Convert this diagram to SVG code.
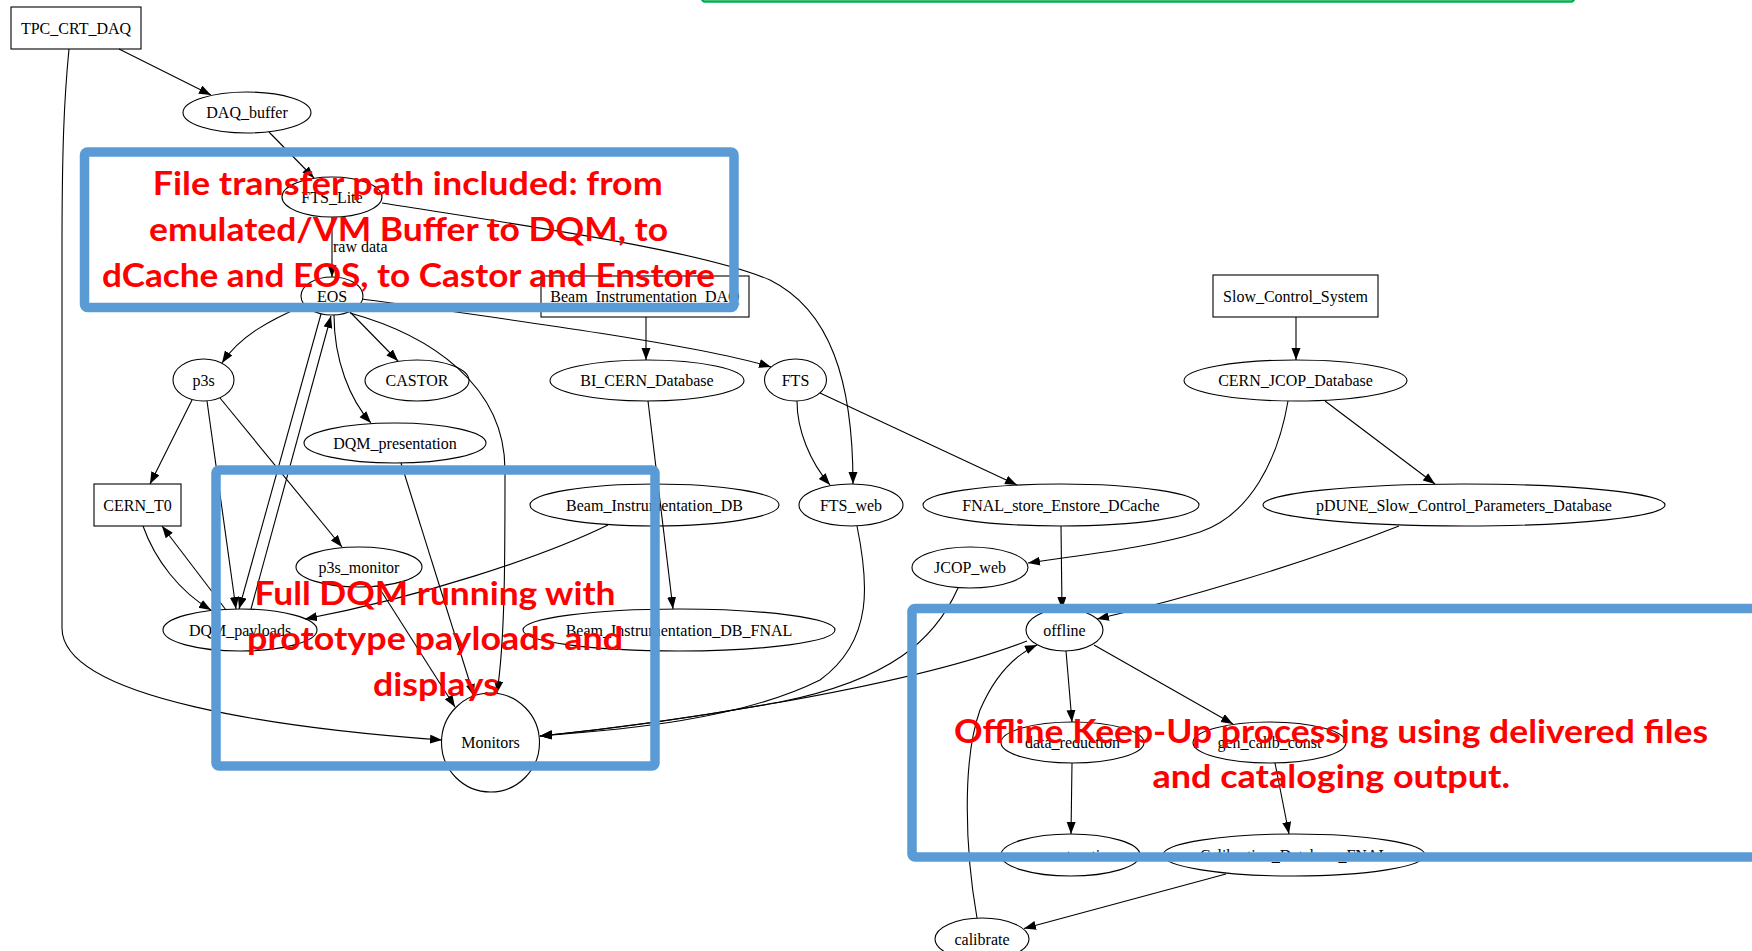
<svg xmlns="http://www.w3.org/2000/svg" width="1752" height="951" viewBox="0 0 1752 951">
<style>
.n ellipse,.n rect{fill:none;stroke:#000;stroke-width:1.1}
.n text,.lbl{font-family:"Liberation Serif","Times New Roman",serif;font-size:16px;fill:#000;text-anchor:middle}
.lbl{text-anchor:start}
#edges path{fill:none;stroke:#000;stroke-width:1.1}
.ar{marker-end:url(#ah)}
.box{fill:none;stroke:#5B9BD5;stroke-width:9.5}
.red{font-family:Lato,"Open Sans","Liberation Sans",sans-serif;font-weight:700;font-size:32px;fill:#FF0000}
</style>
<defs>
<marker id="ah" markerUnits="userSpaceOnUse" markerWidth="13" markerHeight="10" refX="12" refY="4.5" orient="auto">
<path d="M0,0 L12,4.5 L0,9 z" fill="#000"/>
</marker>
</defs>
<rect x="0" y="0" width="1752" height="951" fill="#fff"/>
<rect x="702" y="-12" width="872" height="13.5" rx="3" fill="none" stroke="#00B050" stroke-width="2.5"/>
<g id="edges">
<path class="ar" d="M119,49 L211,95"/>
<path class="ar" d="M69,49 C64,100 62,150 62,250 L62,628 C62,700 290,729 442,740"/>
<path class="ar" d="M269,132 L314,178"/>
<path class="ar" d="M332,217 L332,277"/>
<path class="ar" d="M382,203 C520,225 700,250 770,280 C830,310 853,380 853,484"/>
<path class="ar" d="M303,306 C270,320 240,336 222,363"/>
<path class="ar" d="M350,312 L398,361"/>
<path class="ar" d="M334,315 C334,360 350,400 371,423"/>
<path class="ar" d="M350,313 C430,335 505,385 505,470 C505,560 505,640 497,693"/>
<path class="ar" d="M321,314 L239,609"/>
<path class="ar" d="M251,609 L331,316"/>
<path class="ar" d="M362,299 C500,318 700,345 771,367"/>
<path class="ar" d="M192,400 L150,484"/>
<path class="ar" d="M207,401 L236,609"/>
<path class="ar" d="M220,398 L342,547"/>
<path class="ar" d="M143,526 C155,560 180,592 211,610"/>
<path class="ar" d="M226,610 L162,526"/>
<path class="ar" d="M608,525 C540,558 420,597 305,619"/>
<path class="ar" d="M378,586 L455,707"/>
<path class="ar" d="M401,463 L474,696"/>
<path class="ar" d="M646,317 L646,360"/>
<path class="ar" d="M648,401 L673,609"/>
<path class="ar" d="M797,401 C797,430 810,462 830,485"/>
<path class="ar" d="M820,393 L1017,485"/>
<path class="ar" d="M857,526 C868,580 875,640 820,680 C740,720 620,730 540,736"/>
<path class="ar" d="M958,588 C935,640 890,680 780,702 C680,720 600,730 540,736"/>
<path class="ar" d="M1027,641 C900,690 650,725 540,736"/>
<path class="ar" d="M1061,526 L1062,609"/>
<path class="ar" d="M1288,401 C1278,460 1250,515 1200,532 C1150,548 1080,555 1028,563"/>
<path class="ar" d="M1325,401 L1435,484"/>
<path class="ar" d="M1296,317 L1296,360"/>
<path class="ar" d="M1399,526 C1300,565 1180,600 1097,619"/>
<path class="ar" d="M1066,651 L1072,722"/>
<path class="ar" d="M1094,645 L1233,724"/>
<path class="ar" d="M1072,763 L1071,834"/>
<path class="ar" d="M1275,763 L1289,834"/>
<path class="ar" d="M1226,874 L1024,928.5"/>
<path class="ar" d="M977,918 C965,850 962,760 980,710 C995,675 1015,655 1037,645"/>
<text class="lbl" x="333" y="252">raw data</text>
</g>
<g id="TPC_CRT_DAQ" class="n"><rect x="11" y="7" width="130" height="42"/><text x="76" y="33.5">TPC_CRT_DAQ</text></g>
<g id="DAQ_buffer" class="n"><ellipse cx="247" cy="112.5" rx="64" ry="20.5"/><text x="247" y="118">DAQ_buffer</text></g>
<g id="FTS_Lite" class="n"><ellipse cx="332" cy="197" rx="50" ry="20"/><text x="332" y="202.5">FTS_Lite</text></g>
<g id="EOS" class="n"><ellipse cx="332" cy="296" rx="31" ry="19"/><text x="332" y="301.5">EOS</text></g>
<g id="Beam_Instrumentation_DAQ" class="n"><rect x="541" y="276" width="208" height="41"/><text x="645" y="301.5">Beam_Instrumentation_DAQ</text></g>
<g id="Slow_Control_System" class="n"><rect x="1213" y="275" width="165" height="42"/><text x="1295.5" y="301.5">Slow_Control_System</text></g>
<g id="p3s" class="n"><ellipse cx="203.5" cy="380" rx="30.5" ry="21"/><text x="203.5" y="385.5">p3s</text></g>
<g id="CASTOR" class="n"><ellipse cx="417" cy="380.5" rx="52" ry="20.5"/><text x="417" y="386">CASTOR</text></g>
<g id="BI_CERN_Database" class="n"><ellipse cx="647" cy="380.5" rx="97" ry="20.5"/><text x="647" y="386">BI_CERN_Database</text></g>
<g id="FTS" class="n"><ellipse cx="795.5" cy="380" rx="31" ry="21"/><text x="795.5" y="385.5">FTS</text></g>
<g id="CERN_JCOP_Database" class="n"><ellipse cx="1295.5" cy="380.5" rx="111.5" ry="20.5"/><text x="1295.5" y="386">CERN_JCOP_Database</text></g>
<g id="DQM_presentation" class="n"><ellipse cx="395" cy="443" rx="91" ry="20"/><text x="395" y="448.5">DQM_presentation</text></g>
<g id="CERN_T0" class="n"><rect x="94" y="484" width="87" height="42"/><text x="137.5" y="510.5">CERN_T0</text></g>
<g id="Beam_Instrumentation_DB" class="n"><ellipse cx="654.5" cy="505" rx="124.5" ry="21"/><text x="654.5" y="510.5">Beam_Instrumentation_DB</text></g>
<g id="FTS_web" class="n"><ellipse cx="851" cy="505" rx="52" ry="21"/><text x="851" y="510.5">FTS_web</text></g>
<g id="FNAL_store_Enstore_DCache" class="n"><ellipse cx="1061" cy="505" rx="138" ry="21"/><text x="1061" y="510.5">FNAL_store_Enstore_DCache</text></g>
<g id="pDUNE_Slow_Control_Parameters_Database" class="n"><ellipse cx="1464" cy="505" rx="201" ry="21"/><text x="1464" y="510.5">pDUNE_Slow_Control_Parameters_Database</text></g>
<g id="p3s_monitor" class="n"><ellipse cx="359" cy="567" rx="63" ry="20"/><text x="359" y="572.5">p3s_monitor</text></g>
<g id="JCOP_web" class="n"><ellipse cx="970" cy="567.5" rx="58" ry="20.5"/><text x="970" y="573">JCOP_web</text></g>
<g id="DQM_payloads" class="n"><ellipse cx="240" cy="630" rx="77" ry="21"/><text x="240" y="635.5">DQM_payloads</text></g>
<g id="Beam_Instrumentation_DB_FNAL" class="n"><ellipse cx="679" cy="630" rx="156" ry="21"/><text x="679" y="635.5">Beam_Instrumentation_DB_FNAL</text></g>
<g id="offline" class="n"><ellipse cx="1064.5" cy="630" rx="38.5" ry="21"/><text x="1064.5" y="635.5">offline</text></g>
<g id="Monitors" class="n"><ellipse cx="490.5" cy="742.5" rx="49" ry="49.5"/><text x="490.5" y="748">Monitors</text></g>
<g id="data_reduction" class="n"><ellipse cx="1072.5" cy="742.5" rx="71.5" ry="20.5"/><text x="1072.5" y="748">data_reduction</text></g>
<g id="gen_calib_const" class="n"><ellipse cx="1269.5" cy="742.5" rx="76.5" ry="20.5"/><text x="1269.5" y="748">gen_calib_const</text></g>
<g id="reconstruction" class="n"><ellipse cx="1070.5" cy="855" rx="69.5" ry="21"/><text x="1070.5" y="860.5">reconstruction</text></g>
<g id="Calibration_Database_FNAL" class="n"><ellipse cx="1294" cy="855" rx="131" ry="21"/><text x="1294" y="860.5">Calibration_Database_FNAL</text></g>
<g id="calibrate" class="n"><ellipse cx="982" cy="939" rx="47" ry="21"/><text x="982" y="944.5">calibrate</text></g>
<g id="annotations">
<rect class="box" x="84.5" y="152" width="649.5" height="155.5" rx="3"/>
<rect class="box" x="216" y="470" width="439" height="296" rx="3"/>
<rect class="box" x="912" y="608.5" width="850" height="248.5" rx="3"/>
<text class="red" x="152.7" y="195" textLength="510" lengthAdjust="spacingAndGlyphs">File transfer path included: from</text>
<text class="red" x="149" y="240.5" textLength="519" lengthAdjust="spacingAndGlyphs">emulated/VM Buffer to DQM, to</text>
<text class="red" x="102" y="286.5" textLength="613" lengthAdjust="spacingAndGlyphs">dCache and EOS, to Castor and Enstore</text>
<text class="red" x="254.5" y="605" textLength="361" lengthAdjust="spacingAndGlyphs">Full DQM running with</text>
<text class="red" x="247" y="650.3" textLength="376" lengthAdjust="spacingAndGlyphs">prototype payloads and</text>
<text class="red" x="373" y="695.7" textLength="126" lengthAdjust="spacingAndGlyphs">displays</text>
<text class="red" x="954" y="743" textLength="754" lengthAdjust="spacingAndGlyphs">Offline Keep-Up processing using delivered files</text>
<text class="red" x="1152.5" y="788.3" textLength="357.5" lengthAdjust="spacingAndGlyphs">and cataloging output.</text>
</g>
</svg>
